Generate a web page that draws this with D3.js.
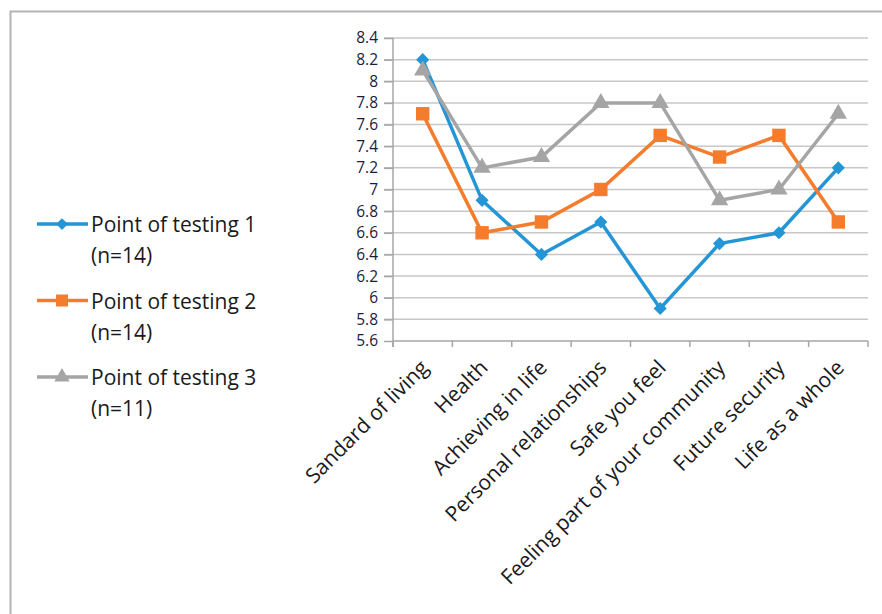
<!DOCTYPE html>
<html lang="en">
<head>
    <meta charset="UTF-8"/>
    <title>Point of testing</title>
    <script src="https://d3js.org/d3.v7.min.js" charset="utf-8"></script>
    <style type="text/css">
        body { margin: 0; background: #fff; }
        text { font-family: "Open Sans", sans-serif; fill: #1a1a1a; }
        .grid line { stroke: #c8c8c8; stroke-width: 1.5px; }
        .axis path, .axis line { fill: none; stroke: #a6a6a6; stroke-width: 1.5px; }
        path.line { fill: none; stroke-width: 3.5px; }
    </style>
</head>
<body>
<div id="chart"></div>
<script type="text/javascript">
    // data
    var categories = ["Sandard of living", "Health", "Achieving in life", "Personal relationships",
        "Safe you feel", "Feeling part of your community", "Future security", "Life as a whole"];
    var testing1 = [8.2, 6.9, 6.4, 6.7, 5.9, 6.5, 6.6, 7.2];
    var testing2 = [7.7, 6.6, 6.7, 7.0, 7.5, 7.3, 7.5, 6.7];
    var testing3 = [8.1, 7.2, 7.3, 7.8, 7.8, 6.9, 7.0, 7.7];
    var seriesNames = ["Point of testing 1", "Point of testing 2", "Point of testing 3"];
    var seriesN = ["(n=14)", "(n=14)", "(n=11)"];
    var yTicks = [5.6, 5.8, 6, 6.2, 6.4, 6.6, 6.8, 7, 7.2, 7.4, 7.6, 7.8, 8, 8.2, 8.4];

    var series = [
        {name: seriesNames[0], n: seriesN[0], values: testing1, color: "#2495d5", shape: d3.symbolDiamond2, size: 110},
        {name: seriesNames[1], n: seriesN[1], values: testing2, color: "#f47c2c", shape: d3.symbolSquare, size: 180},
        {name: seriesNames[2], n: seriesN[2], values: testing3, color: "#a5a5a5", shape: d3.symbolTriangle, size: 130}
    ];

    var W = 882, H = 614;
    var margin = {top: 38, right: 14, bottom: 273, left: 393},
        width = W - margin.left - margin.right,
        height = H - margin.top - margin.bottom;

    var svg = d3.select("#chart").append("svg")
        .attr("width", W)
        .attr("height", H);

    // outer frame (left and top edges visible)
    svg.append("path")
        .attr("d", "M10.5," + H + "V11.5H" + W)
        .attr("fill", "none")
        .attr("stroke", "#b4b4b4")
        .attr("stroke-width", 2);

    var g = svg.append("g")
        .attr("transform", "translate(" + margin.left + "," + margin.top + ")");

    var x = d3.scaleBand().domain(categories).range([0, width]);
    var y = d3.scaleLinear().domain([5.6, 8.4]).range([height, 0]);

    // horizontal grid
    g.append("g").attr("class", "grid")
        .selectAll("line")
        .data(yTicks.slice(1))
        .enter().append("line")
        .attr("x1", -9).attr("x2", width)
        .attr("y1", function (d) { return y(d); })
        .attr("y2", function (d) { return y(d); });

    // Y axis
    var yAxis = g.append("g").attr("class", "axis")
        .call(d3.axisLeft(y).tickValues(yTicks).tickFormat(d3.format("~g")).tickSize(9).tickSizeOuter(0).tickPadding(6));
    yAxis.select(".domain").remove();
    yAxis.selectAll("text").style("font-size", "15.5px").style("fill", "#1c1c3a");

    // X axis with ticks at category boundaries
    var xAxis = g.append("g").attr("class", "axis")
        .attr("transform", "translate(0," + height + ")");
    xAxis.append("line").attr("x1", 0).attr("x2", width);
    var bounds = d3.range(categories.length + 1).map(function (i) {
        return i < categories.length ? x(categories[i]) : width;
    });
    xAxis.selectAll("line.tk")
        .data(bounds)
        .enter().append("line")
        .attr("class", "tk")
        .attr("x1", function (d) { return d; })
        .attr("x2", function (d) { return d; })
        .attr("y1", 0).attr("y2", 6);
    g.append("line")
        .attr("x1", 0).attr("x2", 0).attr("y1", 0).attr("y2", height + 6)
        .attr("stroke", "#a6a6a6").attr("stroke-width", 1.5);

    xAxis.selectAll("text.lbl")
        .data(categories)
        .enter().append("text")
        .attr("class", "lbl")
        .attr("text-anchor", "end")
        .style("font-size", "21px")
        .attr("transform", function (d) {
            var cx = x(d) + x.bandwidth() / 2 + 7;
            return "translate(" + cx + ",28) rotate(-45)";
        })
        .text(function (d) { return d; });

    // lines and markers
    var line = d3.line()
        .x(function (d, i) { return x(categories[i]) + x.bandwidth() / 2; })
        .y(function (d) { return y(d); });

    series.forEach(function (s) {
        g.append("path")
            .attr("class", "line")
            .attr("stroke", s.color)
            .attr("d", line(s.values));
        g.selectAll(null)
            .data(s.values)
            .enter().append("path")
            .attr("d", d3.symbol().type(s.shape).size(s.size))
            .attr("fill", s.color)
            .attr("transform", function (d, i) {
                return "translate(" + (x(categories[i]) + x.bandwidth() / 2) + "," + y(d) + ")";
            });
    });

    // legend
    var legend = svg.append("g");
    series.forEach(function (s, i) {
        var ly = 224 + i * 76.5;
        legend.append("line")
            .attr("x1", 37).attr("x2", 88)
            .attr("y1", ly).attr("y2", ly)
            .attr("stroke", s.color).attr("stroke-width", 3.5);
        legend.append("path")
            .attr("d", d3.symbol().type(s.shape).size(s.size * 0.8))
            .attr("fill", s.color)
            .attr("transform", "translate(62," + ly + ")");
        legend.append("text")
            .attr("x", 91).attr("y", ly + 8)
            .style("font-size", "21px")
            .text(s.name);
        legend.append("text")
            .attr("x", 91).attr("y", ly + 39)
            .style("font-size", "21px")
            .text(s.n);
    });
</script>
</body>
</html>
